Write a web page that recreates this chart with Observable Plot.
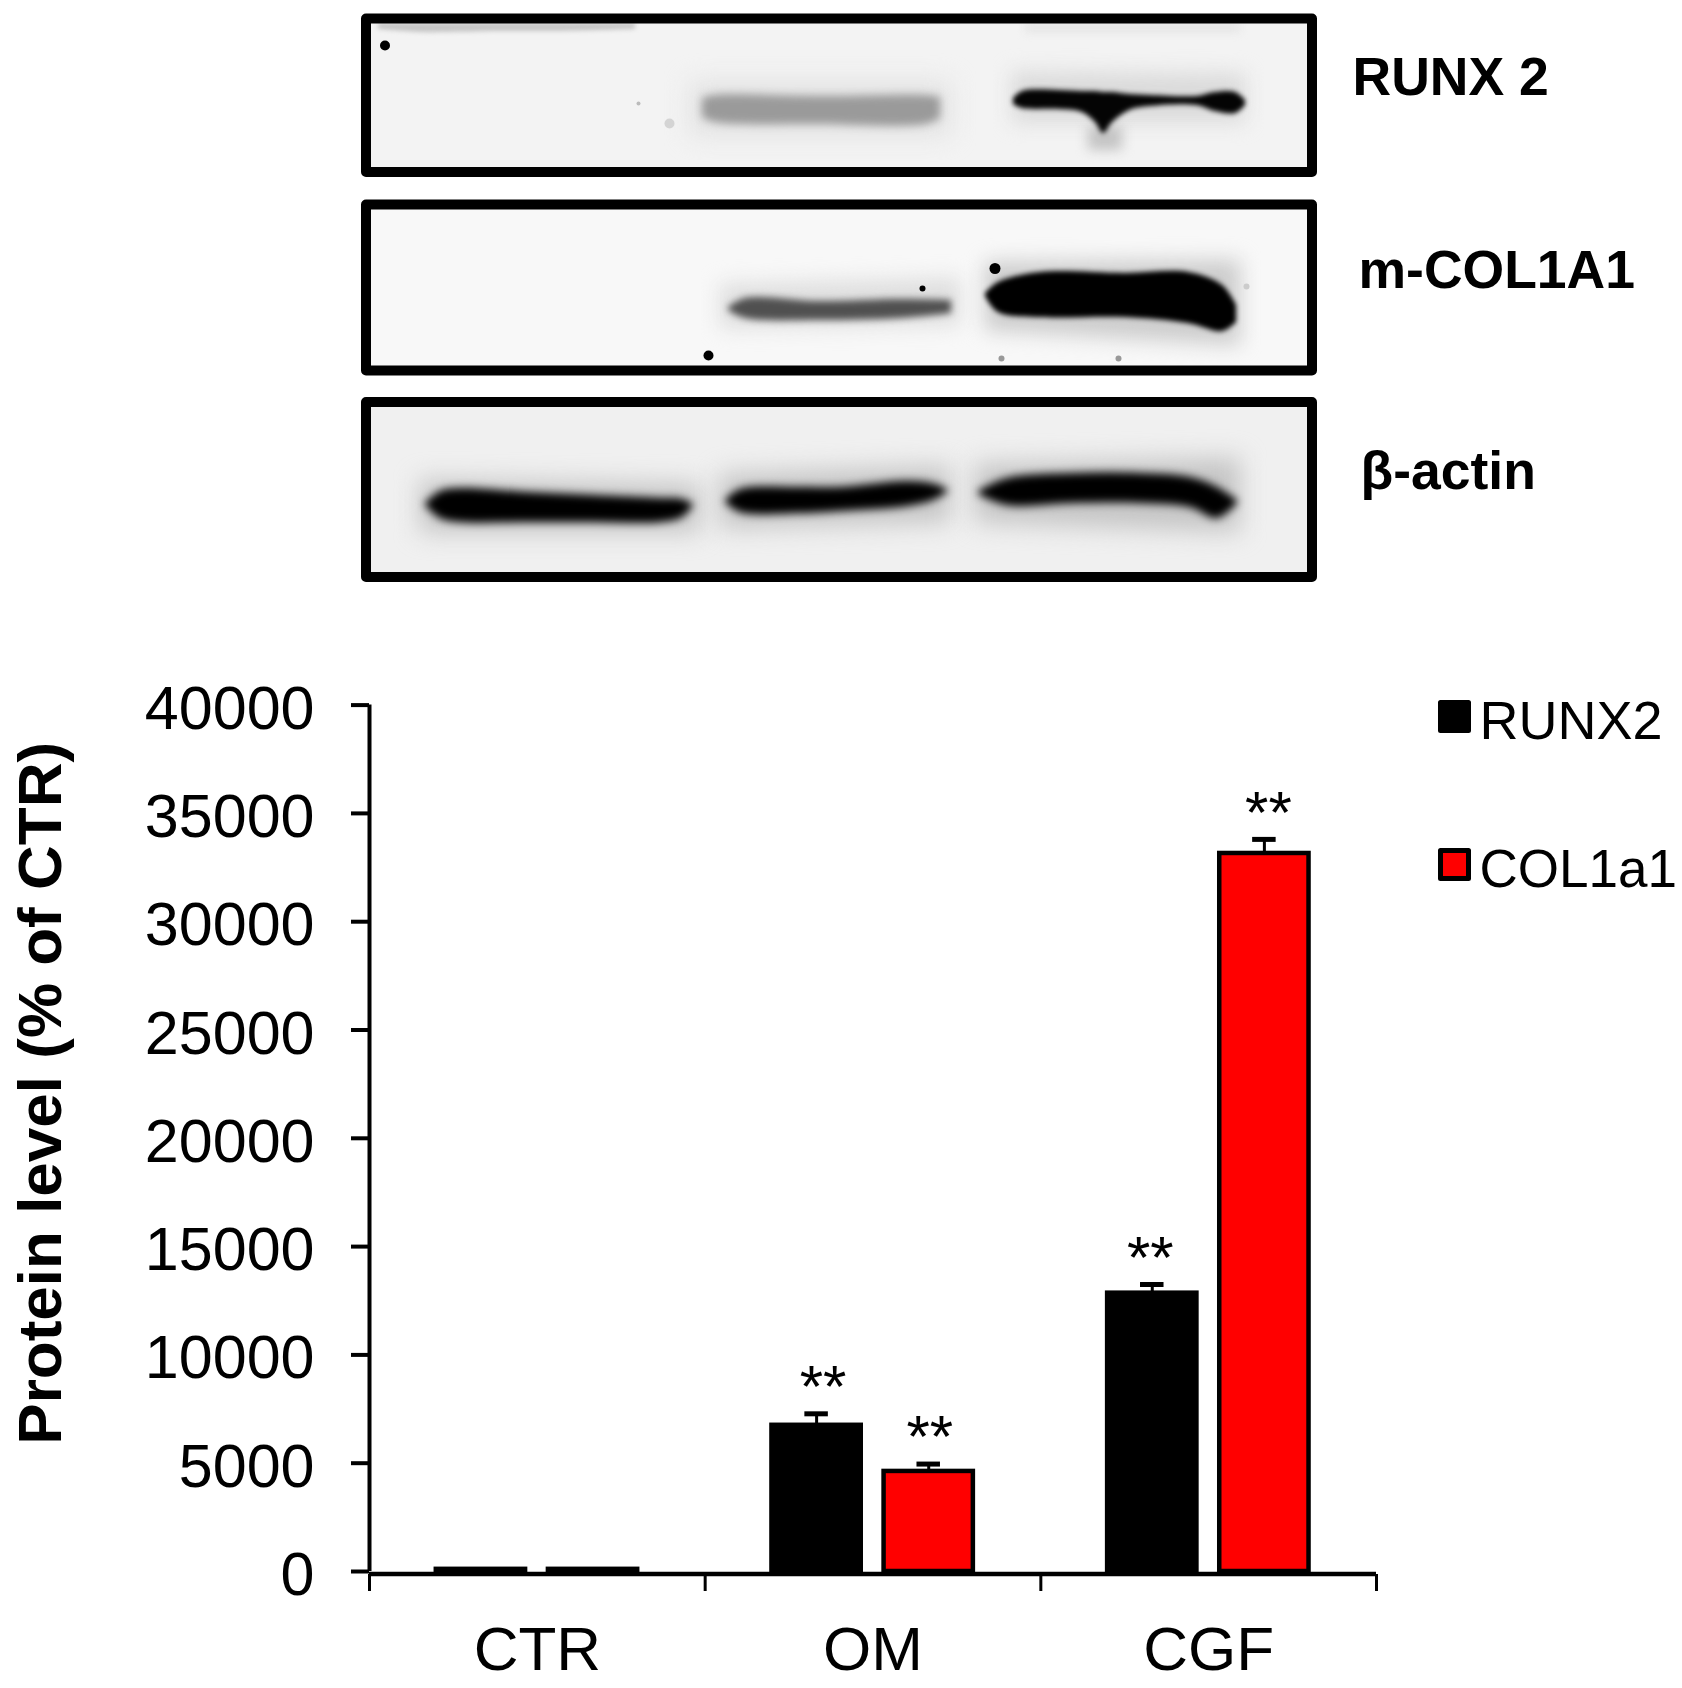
<!DOCTYPE html>
<html>
<head>
<meta charset="utf-8">
<style>html,body{margin:0;padding:0;background:#fff}svg{display:block}</style>
<script src="https://cdn.jsdelivr.net/npm/d3@7"></script>
<script src="https://cdn.jsdelivr.net/npm/@observablehq/plot@0.6"></script>
</head>
<body>
<script>
// ---- chart data ----
const groups = ["CTR", "OM", "CGF"];
const seriesNames = ["RUNX2", "COL1a1"];
const seriesFill = ["#000000", "#ff0000"];
const runx2Values = [100, 6750, 12850];
const runx2Errors = [0, 530, 400];
const col1a1Values = [100, 4620, 33150];
const col1a1Errors = [0, 340, 650];
const significant = [false, true, true];
const starNudge = [[0, 0.019], [0, 0.003], [0, -0.006], [0, 0.012]];
const yTicks = [0, 5000, 10000, 15000, 20000, 25000, 30000, 35000, 40000];
const yTitle = "Protein level (% of CTR)";
const slotStart = [0.199, 0.533];
const slotWidth = 0.266;

// ---- blot data (outlines, in gel pixels) ----
const blotLabels = ["RUNX 2", "m-COL1A1", "β-actin"];
const blotLabelX = [1352, 1358, 1360];
const blotLabelY = [94.5, 287.5, 488.5];
const panelTop = [18.5, 204.5, 402];
const panelBottom = [172, 370.5, 577];
const panelFill = ["#f3f3f3", "#f8f8f8", "#f0f0f0"];
const panelLeft = 366;
const panelRight = 1312;

const bands = [
  {fill: "#c6c6c6", blur: 2, x: [378, 420, 500, 560, 635], top: [23, 23, 23, 23, 23], bottom: [29, 32, 31, 31, 29]},
  {fill: "#e4e4e4", blur: 4, x: [1025, 1240], top: [23, 23], bottom: [32, 32]},
  {fill: "#e2e2e2", blur: 12, x: [690, 950], top: [82, 82], bottom: [135, 135]},
  {fill: "#9a9a9a", blur: 4, x: [702, 715, 820, 925, 940], top: [98, 95, 96, 95, 97], bottom: [117, 122, 124, 124, 118]},
  {fill: "#dadada", blur: 10, x: [1012, 1245], top: [72, 74], bottom: [122, 122]},
  {fill: "#c4c4c4", blur: 6, x: [1088, 1122], top: [125, 125], bottom: [150, 150]},
  {fill: "#040404", blur: 2.5, x: [1013, 1022, 1060, 1082, 1095, 1103, 1112, 1129, 1150, 1196, 1215, 1235, 1245], top: [98, 91, 90, 91, 91, 92, 92, 94, 95, 96, 92, 92, 100], bottom: [104, 108, 109, 112, 122, 133, 122, 110, 106, 105, 111, 113, 105]},
  {fill: "#dedede", blur: 10, x: [720, 960], top: [284, 278], bottom: [328, 325]},
  {fill: "#505050", blur: 3.5, x: [728, 745, 820, 900, 951], top: [307, 298, 301, 299, 300], bottom: [310, 318, 320, 318, 313]},
  {fill: "#cccccc", blur: 10, x: [985, 1240], top: [262, 260], bottom: [330, 345]},
  {fill: "#000000", blur: 2.5, x: [985, 998, 1040, 1125, 1188, 1222, 1236], top: [293, 282, 272, 273, 272, 285, 305], bottom: [296, 312, 317, 317, 323, 331, 322]},
  {fill: "#c4c4c4", blur: 12, x: [420, 700], top: [480, 484], bottom: [532, 532]},
  {fill: "#c4c4c4", blur: 12, x: [720, 950], top: [474, 466], bottom: [528, 522]},
  {fill: "#c4c4c4", blur: 12, x: [975, 1240], top: [464, 458], bottom: [522, 532]},
  {fill: "#000000", blur: 4.5, x: [425, 440, 460, 527, 593, 660, 682, 693], top: [503, 491, 488, 492, 495, 498, 499, 504], bottom: [505, 518, 522, 522, 522, 522, 517, 505]},
  {fill: "#000000", blur: 4.5, x: [725, 740, 800, 840, 907, 935, 948], top: [500, 489, 487, 487, 481, 484, 490], bottom: [502, 512, 513, 511, 506, 499, 491]},
  {fill: "#000000", blur: 4.5, x: [978, 1007, 1073, 1140, 1190, 1217, 1237], top: [491, 478, 473, 473, 477, 487, 500], bottom: [494, 505, 503, 503, 507, 518, 503]}
];
const specksX = [384.5, 708, 994.5, 922, 638, 1001, 1118, 669, 1246];
const specksY = [45, 355, 268, 288, 103, 358, 358, 123, 286];
const specksR = [5, 5, 5.5, 3, 2, 3, 3, 5, 3];
const specksFill = ["#000", "#000", "#000", "#000", "#bbb", "#999", "#999", "#d4d4d4", "#ccc"];

// ---- blots ----
const font = "'Liberation Sans', Arial, sans-serif";
const panelRows = panelTop.map((t, i) => ({t, b: panelBottom[i], fill: panelFill[i]}));
const specks = specksX.map((x, i) => ({x, y: specksY[i], r: specksR[i], fill: specksFill[i]}));
const labelRows = blotLabels.map((t, i) => ({t, x: blotLabelX[i], y: blotLabelY[i]}));

const blotPlot = Plot.plot({
  width: 1682, height: 600,
  marginTop: 0, marginRight: 0, marginBottom: 0, marginLeft: 0,
  style: {fontFamily: font, background: "#fff", overflow: "visible"},
  x: {domain: [0, 1682], range: [0, 1682], axis: null},
  y: {domain: [0, 600], range: [0, 600], axis: null},
  r: {type: "identity"},
  marks: [
    Plot.rect(panelRows, {x1: panelLeft, x2: panelRight, y1: "t", y2: "b", fill: "fill"}),
    ...bands.map((b) => Plot.areaY(
      b.x.map((x, i) => ({x, top: b.top[i], bottom: b.bottom[i]})),
      {x: "x", y1: "top", y2: "bottom", fill: b.fill, curve: "catmull-rom"}
    )),
    Plot.dot(specks, {x: "x", y: "y", r: "r", fill: "fill"}),
    Plot.rect(panelRows, {x1: panelLeft, x2: panelRight, y1: "t", y2: "b", fill: "none", stroke: "#000", strokeWidth: 10, strokeLinejoin: "round"}),
    Plot.text(labelRows, {x: "x", y: "y", text: "t", textAnchor: "start", lineAnchor: "bottom", fontSize: 53.5, fontWeight: "bold", fill: "#000"})
  ]
});
blotPlot.querySelectorAll('g[aria-label="area"]').forEach((g, i) => {
  g.style.filter = "blur(" + bands[i].blur + "px)";
});
document.body.appendChild(blotPlot);

// ---- bar chart ----
const values = [runx2Values, col1a1Values];
const errors = [runx2Errors, col1a1Errors];
const rows = groups.flatMap((g, gi) => seriesNames.map((s, si) => ({
  group: g,
  series: s,
  x1: gi + slotStart[si],
  x2: gi + slotStart[si] + slotWidth,
  xc: gi + slotStart[si] + slotWidth / 2,
  value: values[si][gi],
  top: values[si][gi] + errors[si][gi],
  fill: seriesFill[si],
  star: significant[gi]
})));
const withError = rows.filter((d) => d.star);
withError.forEach((d, i) => { d.starX = d.xc + starNudge[i][1]; });
const capHalf = 0.035;

const chart = Plot.plot({
  width: 1682, height: 1088,
  marginTop: 104.6, marginRight: 306, marginBottom: 117, marginLeft: 369,
  style: {fontFamily: font, background: "transparent", overflow: "visible"},
  x: {domain: [0, 3], axis: null},
  y: {domain: [0, 40000], axis: null},
  marks: [
    Plot.ruleX(withError, {x: "xc", y1: "value", y2: "top", stroke: "#000", strokeWidth: 3}),
    Plot.ruleY(withError, {y: "top", x1: (d) => d.xc - capHalf, x2: (d) => d.xc + capHalf, stroke: "#000", strokeWidth: 5}),
    Plot.rectY(rows, {x1: "x1", x2: "x2", y1: 0, y2: "value", fill: "fill", stroke: "#000", strokeWidth: 4.5}),
    Plot.ruleX([0], {y1: 0, y2: 40000, stroke: "#000", strokeWidth: 4}),
    Plot.ruleY([0], {x1: 0, x2: 3, dy: 2.5, stroke: "#000", strokeWidth: 4.5}),
    Plot.axisY({ticks: yTicks, tickSize: 18, tickFormat: () => "", fill: "none", stroke: "#000", strokeWidth: 4, label: null}),
    Plot.axisY({ticks: yTicks, tickSize: 0, tickPadding: 55, tickFormat: "d", fontSize: 61, fill: "#000", dy: 4, label: null}),
    Plot.axisX({ticks: [0, 1, 2, 3], tickSize: 17, tickFormat: () => "", fill: "none", stroke: "#000", strokeWidth: 3, dy: 3, label: null}),
    Plot.axisX({ticks: [0.5, 1.5, 2.5], tickSize: 0, tickPadding: 54, tickFormat: (d) => groups[Math.floor(d)], fontSize: 62, fill: "#000", label: null}),
    Plot.text(withError, {x: "starX", y: "top", text: () => "**", fontSize: 60, lineAnchor: "middle", dy: -26, fill: "#000"}),
    Plot.text([yTitle], {frameAnchor: "left", textAnchor: "middle", rotate: -90, dx: -328, dy: -45, fontSize: 62, fontWeight: "bold", fill: "#000", lineAnchor: "middle"}),
    Plot.dot([seriesNames[0]], {frameAnchor: "top-right", dx: 78, dy: 11.5, symbol: "square", r: 15.8, fill: seriesFill[0], stroke: "#000", strokeWidth: 5, strokeLinejoin: "round"}),
    Plot.dot([seriesNames[1]], {frameAnchor: "top-right", dx: 78, dy: 159.4, symbol: "square", r: 15.8, fill: seriesFill[1], stroke: "#000", strokeWidth: 5, strokeLinejoin: "round"}),
    Plot.text([seriesNames[0]], {frameAnchor: "top-right", dx: 103, dy: 17, textAnchor: "start", lineAnchor: "middle", fontSize: 54, fill: "#000"}),
    Plot.text([seriesNames[1]], {frameAnchor: "top-right", dx: 103, dy: 165, textAnchor: "start", lineAnchor: "middle", fontSize: 53, fill: "#000"})
  ]
});
document.body.appendChild(chart);
</script>
</body>
</html>
